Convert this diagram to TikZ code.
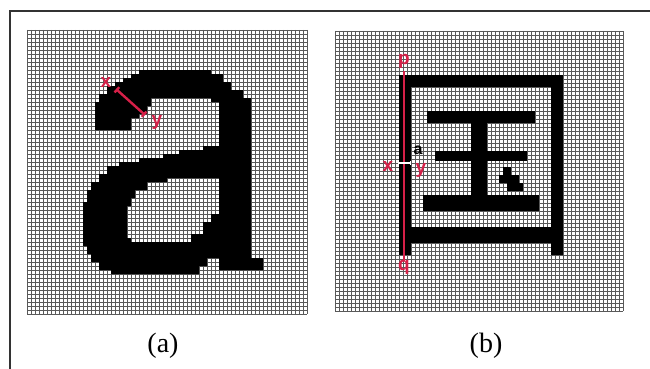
\documentclass[tikz,border=0pt]{standalone}
\usepackage{fontspec}
\setmainfont{Liberation Serif}
\newfontfamily\lblfont{Liberation Sans}
\usetikzlibrary{arrows.meta}
\definecolor{annot}{RGB}{214,32,72}
\tikzset{
  framestyle/.style={draw=black!80, line width=1.2pt},
  gridline/.style={draw=black!65, line width=0.75pt},
  glyph/.style={fill=black},
  redlbl/.style={text=annot, font=\lblfont\bfseries\fontsize{19}{19}\selectfont, inner sep=0pt},
  blklbl/.style={text=black, font=\lblfont\bfseries\fontsize{16}{16}\selectfont, inner sep=0pt},
  redline/.style={draw=annot, line width=2.4pt},
  caption/.style={font=\fontsize{28}{28}\selectfont, inner sep=0pt}
}
\begin{document}
\begin{tikzpicture}[x=1pt,y=-1pt]
\useasboundingbox (0,0) rectangle (650,369);
\draw[framestyle] (10,369) -- (10,11) -- (650,11);

% ---------- (a) ----------
\begin{scope}[shift={(27,30)},x=4pt,y=-4pt]
  \foreach \i in {0,...,70} \draw[gridline] (\i,0) -- (\i,71);
  \foreach \j in {0,...,71} \draw[gridline] (0,\j) -- (70,\j);
  \fill[glyph, even odd rule]
    (17,25) |- (18,18) |- (20,16) |- (22,14) |- (24,13) |- (26,12) |- (28,11) |- (30,10)
    -- (44,10) -| (46,11) -| (49,13) -| (51,15) -| (54,17) -| (56,18)
    -- (56,57) -| (59,60) -- (48,60) -- (48,57) -- (45,57) -- (45,59) -- (43,59) -- (43,61)
    -- (25,61) -| (21,60) -| (18,58) -| (16,56) -| (15,54) -| (14,52) -- (14,46)
    |- (15,43) |- (16,40) |- (18,38) |- (20,36) |- (23,34) |- (28,33) |- (34,32) |- (38,31) |- (44,30) |- (48,29)
    -- (48,20) |- (46,18) |- (44,17) -- (34,17) -| (31,19) -| (30,21) -| (28,22) -| (26,24) -- (26,25) -- cycle
    (35,37) -- (48,37) -- (48,44) |- (46,46) |- (44,48) |- (41,51) |- (38,53) -- (27,53)
    -| (26,52) -| (25,48) -- (25,44) -| (26,42) -| (27,40) -| (30,38) -| (35,37) -- cycle;
\end{scope}
\coordinate (a1) at (116,89);
\coordinate (a2) at (145,115);
\draw[redline, {Bar[width=7pt]}-{Bar[width=7pt]}] (a1) -- (a2);
\node[redlbl] (ax) at (106,82) {x};
\node[redlbl] (ay) at (157,122) {y};

% ---------- (b) ----------
\begin{scope}[shift={(335,31)},x=4pt,y=-4pt]
  \foreach \i in {0,...,72} \draw[gridline] (\i,0) -- (\i,70);
  \foreach \j in {0,...,70} \draw[gridline] (0,\j) -- (72,\j);
  \fill[glyph] (16,11) rectangle (19,56);
  \fill[glyph] (16,11) rectangle (57,14);
  \fill[glyph] (54,11) rectangle (57,56);
  \fill[glyph] (16,49) rectangle (57,53);
  \fill[glyph] (23,20) rectangle (50,23);
  \fill[glyph] (25,30) rectangle (48,32.5);
  \fill[glyph] (22,41) rectangle (51,45);
  \fill[glyph] (34,23) rectangle (38,41);
  \fill[glyph] (42,34) rectangle (44,36);
  \fill[glyph] (41,36) rectangle (46,38);
  \fill[glyph] (43,38) rectangle (47,40);
\end{scope}
\node[redlbl] (bp) at (404,61) {p};
\node[redlbl] (bq) at (404,267) {q};
\coordinate (pt) at (404,71);
\coordinate (qt) at (404,261);
\draw[redline, line width=2pt] (pt) -- (qt);
\node[redlbl] (bx) at (388,166) {x};
\node[redlbl] (by) at (421,170) {y};
\node[blklbl] (ba) at (418,150) {a};
\coordinate (w1) at (398,163);
\coordinate (w2) at (411,163);
\draw[draw=white, line width=1.2pt, {Bar[width=4pt]}-{Bar[width=4pt]}] (w1) -- (w2);

% ---------- captions ----------
\node[caption] (capa) at (163,346) {(a)};
\node[caption] (capb) at (486,346) {(b)};
\end{tikzpicture}
\end{document}
